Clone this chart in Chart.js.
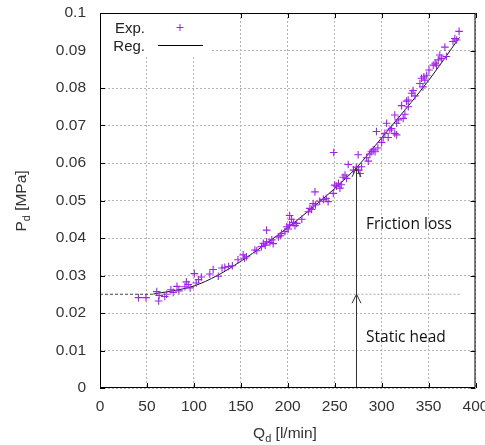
<!DOCTYPE html>
<html>
<head>
<meta charset="utf-8">
<script src="https://cdn.jsdelivr.net/npm/chart.js@4/dist/chart.umd.min.js"></script>
<style>
  html, body { margin: 0; padding: 0; background: #fff; }
  #wrap { width: 485px; height: 445px; }
</style>
</head>
<body>
<div id="wrap"><canvas id="chart" width="485" height="445"></canvas></div>
<script>
'use strict';

// Measured points: flow Q_d [l/min] vs pressure P_d [MPa]
const expQ = [
  41, 49, 60.5, 62.5, 63, 69, 71, 75.5, 78, 82, 84, 90.5, 92, 94, 96,
  100.5, 102.5, 105, 108, 117, 120.5, 126, 130, 133, 137, 141, 147,
  152.5, 154, 156, 165, 167, 172, 174, 176, 177.5, 177.5, 181, 183, 184.5,
  190, 192, 193.5, 197, 199, 200.5, 202, 202, 204, 206, 207.7, 209.5,
  215, 222, 223.6, 225.4, 227, 229, 229.5, 234, 238, 241, 243, 248.5,
  249, 250, 252, 254, 255.6, 257, 259, 261, 262.7, 264.4, 270, 273, 275,
  275.5, 277, 278.7, 284, 285.8, 287.5, 289, 291, 293, 294.5, 296, 300,
  301.7, 303.5, 305.3, 307, 308.8, 310.6, 314, 316, 314, 316, 317.7,
  321.3, 323, 324.8, 326.5, 328.3, 328.4, 332, 333.5, 335.5, 340.8,
  342.5, 344, 345, 346, 348, 350.5, 355, 357, 358.5, 360.3, 362, 364,
  367.4, 369, 376, 378, 380, 382.5
];
const expP = [
  0.0241, 0.0241, 0.0257, 0.0232, 0.0247, 0.0244, 0.0250, 0.0262, 0.0255, 0.0271, 0.0259, 0.0270, 0.0283, 0.0276, 0.0267,
  0.0305, 0.0280, 0.0289, 0.0296, 0.0304, 0.0316, 0.0298, 0.0320, 0.0322, 0.0324, 0.0326, 0.0342,
  0.0355, 0.0346, 0.0350, 0.0368, 0.0366, 0.0377, 0.0386, 0.0381, 0.0390, 0.0421, 0.0388, 0.0395, 0.0385,
  0.0403, 0.0406, 0.0412, 0.0417, 0.0430, 0.0424, 0.0435, 0.0460, 0.0450, 0.0441, 0.0433, 0.0439,
  0.0450, 0.0470, 0.0479, 0.0476, 0.0492, 0.0523, 0.0488, 0.0498, 0.0503, 0.0506, 0.0497, 0.0519,
  0.0628, 0.0541, 0.0538, 0.0546, 0.0533, 0.0542, 0.0562, 0.0568, 0.0559, 0.0596, 0.0581, 0.0589, 0.0622,
  0.0581, 0.0572, 0.0590, 0.0614, 0.0605, 0.0624, 0.0630, 0.0635, 0.0630, 0.0684, 0.0640, 0.0655,
  0.0668, 0.0679, 0.0706, 0.0668, 0.0688, 0.0692, 0.0679, 0.0675, 0.0728, 0.0706, 0.0715,
  0.0753, 0.0719, 0.0730, 0.0765, 0.0768, 0.0750, 0.0786, 0.0793, 0.0779, 0.0812,
  0.0826, 0.0803, 0.0830, 0.0821, 0.0834, 0.0848, 0.0861, 0.0866, 0.0861, 0.0875, 0.0888, 0.0879,
  0.0909, 0.0884, 0.0924, 0.0932, 0.0928, 0.0951
];

// Regression curve
const regQ = [57, 75, 100, 125, 150, 175, 200, 225, 250, 273, 300, 325, 350, 383];
const regP = [0.0251, 0.0258, 0.0272, 0.0300, 0.0338, 0.0381, 0.0428, 0.0478, 0.0532, 0.0587, 0.0667, 0.0742, 0.0820, 0.0935];

// Static head level and the operating point marked by the arrow
const staticHead = 0.025;
const staticQ = [0, 57, 385];
const markQ = 273;
const markP = 0.0587;

const xTicks = [0, 50, 100, 150, 200, 250, 300, 350, 400];
const yTicks = [0, 0.01, 0.02, 0.03, 0.04, 0.05, 0.06, 0.07, 0.08, 0.09, 0.1];

const PURPLE = '#a020f0';
const FONT = '"Liberation Sans", Arial, sans-serif';
const NOTE_FONT = '"Open Sans", "Noto Sans", sans-serif';

const pts = (xs, ys) => xs.map((x, i) => ({ x, y: ys[i] }));

// Border, inward ticks, tick labels, arrow, notes, axis titles, legend (gnuplot look)
const decor = {
  id: 'decor',
  afterDatasetsDraw(chart) {
    const { ctx, chartArea: a, scales: { x, y } } = chart;
    ctx.save();

    // arrow
    const ax = Math.round(x.getPixelForValue(markQ)) + 0.5;
    const y0 = y.getPixelForValue(0);
    const yTop = y.getPixelForValue(markP);
    const yMid = y.getPixelForValue(staticHead);
    ctx.strokeStyle = '#333';
    ctx.lineWidth = 1;
    ctx.beginPath();
    ctx.moveTo(ax, y0);
    ctx.lineTo(ax, yTop);
    for (const tip of [yMid, yTop]) {
      ctx.moveTo(ax - 4.5, tip + 9);
      ctx.lineTo(ax, tip);
      ctx.lineTo(ax + 4.5, tip + 9);
    }
    ctx.stroke();

    // border + ticks on all four sides
    ctx.strokeStyle = '#000';
    ctx.beginPath();
    ctx.rect(a.left + 0.5, a.top + 0.5, a.right - a.left - 1, a.bottom - a.top - 1);
    for (const v of xTicks) {
      const px = Math.round(x.getPixelForValue(v)) + 0.5;
      ctx.moveTo(px, a.bottom); ctx.lineTo(px, a.bottom - 5);
      ctx.moveTo(px, a.top); ctx.lineTo(px, a.top + 5);
    }
    for (const v of yTicks) {
      const py = Math.round(y.getPixelForValue(v)) + 0.5;
      ctx.moveTo(a.left, py); ctx.lineTo(a.left + 5, py);
      ctx.moveTo(a.right, py); ctx.lineTo(a.right - 5, py);
    }
    ctx.stroke();

    // tick labels
    ctx.fillStyle = '#333';
    ctx.font = `15.5px ${FONT}`;
    ctx.textBaseline = 'middle';
    ctx.textAlign = 'center';
    for (const v of xTicks) ctx.fillText(String(v), x.getPixelForValue(v), a.bottom + 18.5);
    ctx.textAlign = 'right';
    for (const v of yTicks) ctx.fillText(String(+v.toFixed(2)), a.left - 14, y.getPixelForValue(v));

    // notes
    ctx.fillStyle = '#111';
    ctx.font = `15.5px ${NOTE_FONT}`;
    ctx.textAlign = 'left';
    ctx.fillText('Friction loss', 366, 225);
    ctx.fillText('Static head', 366, 338);
    ctx.restore();
  },
  afterDraw(chart) {
    const { ctx } = chart;
    ctx.save();
    ctx.fillStyle = '#333';
    ctx.textBaseline = 'alphabetic';

    // subscripted title: main, sub, rest
    const title = (main, sub, rest) => {
      ctx.font = `15.5px ${FONT}`;
      const w1 = ctx.measureText(main).width;
      const w3 = ctx.measureText(rest).width;
      ctx.font = `11px ${FONT}`;
      const w2 = ctx.measureText(sub).width;
      let cx = -(w1 + w2 + w3) / 2;
      ctx.font = `15.5px ${FONT}`;
      ctx.fillText(main, cx, 0); cx += w1;
      ctx.font = `11px ${FONT}`;
      ctx.fillText(sub, cx, 4); cx += w2;
      ctx.font = `15.5px ${FONT}`;
      ctx.fillText(rest, cx, 0);
    };
    ctx.save();
    ctx.translate(285, 438);
    title('Q', 'd', ' [l/min]');
    ctx.restore();
    ctx.save();
    ctx.translate(26, 201);
    ctx.rotate(-Math.PI / 2);
    title('P', 'd', ' [MPa]');
    ctx.restore();

    // legend box
    ctx.fillStyle = '#fff';
    ctx.fillRect(101, 14, 111, 41);
    ctx.fillStyle = '#222';
    ctx.font = `15px ${FONT}`;
    ctx.textAlign = 'right';
    ctx.fillText('Exp.', 145, 32.5);
    ctx.fillText('Reg.', 145, 50.5);
    ctx.strokeStyle = PURPLE;
    ctx.lineWidth = 1;
    ctx.beginPath();
    ctx.moveTo(176.5, 27.5); ctx.lineTo(183.5, 27.5);
    ctx.moveTo(180, 24); ctx.lineTo(180, 31);
    ctx.stroke();
    ctx.strokeStyle = '#000';
    ctx.beginPath();
    ctx.moveTo(158, 45.5); ctx.lineTo(203, 45.5);
    ctx.stroke();
    ctx.restore();
  }
};

const gridOpts = { color: '#b4b4b4', drawTicks: false };
const borderOpts = { display: false, dash: [2, 2] };

new Chart(document.getElementById('chart'), {
  type: 'scatter',
  data: {
    datasets: [
      {
        label: 'static-left',
        data: pts(staticQ.slice(0, 2), [staticHead, staticHead]),
        showLine: true,
        borderColor: '#444',
        borderWidth: 1,
        borderDash: [3, 2],
        pointRadius: 0
      },
      {
        label: 'static-right',
        data: pts(staticQ.slice(1), [staticHead, staticHead]),
        showLine: true,
        borderColor: '#a8a8a8',
        borderWidth: 1,
        borderDash: [2, 2],
        pointRadius: 0
      },
      {
        label: 'Exp.',
        data: pts(expQ, expP),
        pointStyle: 'cross',
        pointRadius: 3.8,
        borderColor: PURPLE,
        backgroundColor: PURPLE,
        borderWidth: 1.1
      },
      {
        label: 'Reg.',
        data: pts(regQ, regP),
        showLine: true,
        borderColor: '#111',
        borderWidth: 1,
        pointRadius: 0,
        cubicInterpolationMode: 'monotone'
      }
    ]
  },
  options: {
    responsive: false,
    animation: false,
    events: [],
    layout: { padding: { left: 0, top: 13, right: 9.5, bottom: 0 } },
    plugins: { legend: { display: false }, tooltip: { enabled: false } },
    scales: {
      x: {
        type: 'linear',
        min: 0,
        max: 400,
        afterBuildTicks: s => { s.ticks = xTicks.map(value => ({ value })); },
        afterFit: s => { s.height = 57; },
        border: borderOpts,
        grid: gridOpts,
        ticks: { display: false }
      },
      y: {
        type: 'linear',
        min: 0,
        max: 0.1,
        afterBuildTicks: s => { s.ticks = yTicks.map(value => ({ value })); },
        afterFit: s => { s.width = 100; },
        border: borderOpts,
        grid: gridOpts,
        ticks: { display: false }
      }
    }
  },
  plugins: [decor]
});
</script>
</body>
</html>
